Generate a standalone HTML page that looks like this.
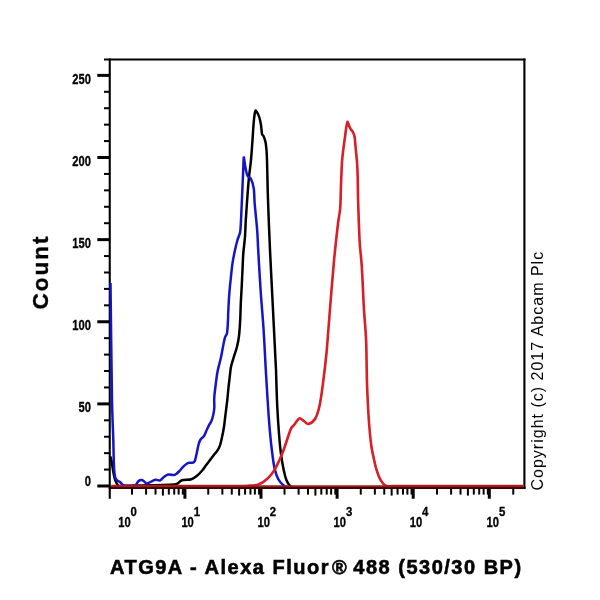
<!DOCTYPE html>
<html><head><meta charset="utf-8"><style>
html,body{margin:0;padding:0;background:#fff;width:600px;height:600px;overflow:hidden}
svg{display:block;will-change:transform}
text{font-family:"Liberation Sans",sans-serif;fill:#000}
.yl{font-size:14px;font-weight:bold;stroke:#000;stroke-width:0.3px}
.xl{font-size:14px;font-weight:bold;stroke:#000;stroke-width:0.3px}
.xs{font-size:12px;font-weight:bold;stroke:#000;stroke-width:0.3px}
.title{font-size:20px;font-weight:bold;letter-spacing:1.5px;stroke:#000;stroke-width:0.6px}
.count{font-size:22.5px;font-weight:bold;letter-spacing:2px;stroke:#000;stroke-width:0.4px}
.copy{font-size:16px;letter-spacing:1px}
</style></head><body>
<svg width="600" height="600" viewBox="0 0 600 600">
<line x1="109.75" y1="58.5" x2="109.75" y2="498.7" stroke="#000" stroke-width="2.1"/>
<line x1="104" y1="59.5" x2="525.5" y2="59.5" stroke="#000" stroke-width="2.2"/>
<line x1="524.4" y1="58.5" x2="524.4" y2="489" stroke="#000" stroke-width="2.1"/>
<line x1="108.7" y1="487.6" x2="525.5" y2="487.6" stroke="#000" stroke-width="2.6"/>
<line x1="97.3" y1="486.00" x2="110" y2="486.00" stroke="#000" stroke-width="3"/>
<line x1="104" y1="469.57" x2="110" y2="469.57" stroke="#000" stroke-width="2"/>
<line x1="104" y1="453.15" x2="110" y2="453.15" stroke="#000" stroke-width="2"/>
<line x1="104" y1="436.73" x2="110" y2="436.73" stroke="#000" stroke-width="2"/>
<line x1="104" y1="420.30" x2="110" y2="420.30" stroke="#000" stroke-width="2"/>
<line x1="97.3" y1="403.88" x2="110" y2="403.88" stroke="#000" stroke-width="3"/>
<line x1="104" y1="387.45" x2="110" y2="387.45" stroke="#000" stroke-width="2"/>
<line x1="104" y1="371.02" x2="110" y2="371.02" stroke="#000" stroke-width="2"/>
<line x1="104" y1="354.60" x2="110" y2="354.60" stroke="#000" stroke-width="2"/>
<line x1="104" y1="338.17" x2="110" y2="338.17" stroke="#000" stroke-width="2"/>
<line x1="97.3" y1="321.75" x2="110" y2="321.75" stroke="#000" stroke-width="3"/>
<line x1="104" y1="305.32" x2="110" y2="305.32" stroke="#000" stroke-width="2"/>
<line x1="104" y1="288.90" x2="110" y2="288.90" stroke="#000" stroke-width="2"/>
<line x1="104" y1="272.48" x2="110" y2="272.48" stroke="#000" stroke-width="2"/>
<line x1="104" y1="256.05" x2="110" y2="256.05" stroke="#000" stroke-width="2"/>
<line x1="97.3" y1="239.62" x2="110" y2="239.62" stroke="#000" stroke-width="3"/>
<line x1="104" y1="223.20" x2="110" y2="223.20" stroke="#000" stroke-width="2"/>
<line x1="104" y1="206.77" x2="110" y2="206.77" stroke="#000" stroke-width="2"/>
<line x1="104" y1="190.35" x2="110" y2="190.35" stroke="#000" stroke-width="2"/>
<line x1="104" y1="173.93" x2="110" y2="173.93" stroke="#000" stroke-width="2"/>
<line x1="97.3" y1="157.50" x2="110" y2="157.50" stroke="#000" stroke-width="3"/>
<line x1="104" y1="141.07" x2="110" y2="141.07" stroke="#000" stroke-width="2"/>
<line x1="104" y1="124.65" x2="110" y2="124.65" stroke="#000" stroke-width="2"/>
<line x1="104" y1="108.22" x2="110" y2="108.22" stroke="#000" stroke-width="2"/>
<line x1="104" y1="91.80" x2="110" y2="91.80" stroke="#000" stroke-width="2"/>
<line x1="97.3" y1="75.38" x2="110" y2="75.38" stroke="#000" stroke-width="3"/>
<line x1="184.90" y1="488" x2="184.90" y2="498.7" stroke="#000" stroke-width="3"/>
<line x1="261.00" y1="488" x2="261.00" y2="498.7" stroke="#000" stroke-width="3"/>
<line x1="337.10" y1="488" x2="337.10" y2="498.7" stroke="#000" stroke-width="3"/>
<line x1="413.20" y1="488" x2="413.20" y2="498.7" stroke="#000" stroke-width="3"/>
<line x1="489.30" y1="488" x2="489.30" y2="498.7" stroke="#000" stroke-width="3"/>
<line x1="132.01" y1="488" x2="132.01" y2="494.6" stroke="#000" stroke-width="2"/>
<line x1="146.11" y1="488" x2="146.11" y2="494.6" stroke="#000" stroke-width="2"/>
<line x1="155.52" y1="488" x2="155.52" y2="494.6" stroke="#000" stroke-width="2"/>
<line x1="162.89" y1="488" x2="162.89" y2="495.6" stroke="#000" stroke-width="2"/>
<line x1="168.82" y1="488" x2="168.82" y2="494.6" stroke="#000" stroke-width="2"/>
<line x1="174.21" y1="488" x2="174.21" y2="494.6" stroke="#000" stroke-width="2"/>
<line x1="178.63" y1="488" x2="178.63" y2="494.6" stroke="#000" stroke-width="2"/>
<line x1="182.82" y1="488" x2="182.82" y2="494.6" stroke="#000" stroke-width="2"/>
<line x1="208.26" y1="488" x2="208.26" y2="494.6" stroke="#000" stroke-width="2"/>
<line x1="222.36" y1="488" x2="222.36" y2="494.6" stroke="#000" stroke-width="2"/>
<line x1="231.77" y1="488" x2="231.77" y2="494.6" stroke="#000" stroke-width="2"/>
<line x1="239.14" y1="488" x2="239.14" y2="495.6" stroke="#000" stroke-width="2"/>
<line x1="245.07" y1="488" x2="245.07" y2="494.6" stroke="#000" stroke-width="2"/>
<line x1="250.46" y1="488" x2="250.46" y2="494.6" stroke="#000" stroke-width="2"/>
<line x1="254.88" y1="488" x2="254.88" y2="494.6" stroke="#000" stroke-width="2"/>
<line x1="259.07" y1="488" x2="259.07" y2="494.6" stroke="#000" stroke-width="2"/>
<line x1="284.51" y1="488" x2="284.51" y2="494.6" stroke="#000" stroke-width="2"/>
<line x1="298.61" y1="488" x2="298.61" y2="494.6" stroke="#000" stroke-width="2"/>
<line x1="308.02" y1="488" x2="308.02" y2="494.6" stroke="#000" stroke-width="2"/>
<line x1="315.39" y1="488" x2="315.39" y2="495.6" stroke="#000" stroke-width="2"/>
<line x1="321.32" y1="488" x2="321.32" y2="494.6" stroke="#000" stroke-width="2"/>
<line x1="326.71" y1="488" x2="326.71" y2="494.6" stroke="#000" stroke-width="2"/>
<line x1="331.13" y1="488" x2="331.13" y2="494.6" stroke="#000" stroke-width="2"/>
<line x1="335.32" y1="488" x2="335.32" y2="494.6" stroke="#000" stroke-width="2"/>
<line x1="360.76" y1="488" x2="360.76" y2="494.6" stroke="#000" stroke-width="2"/>
<line x1="374.86" y1="488" x2="374.86" y2="494.6" stroke="#000" stroke-width="2"/>
<line x1="384.27" y1="488" x2="384.27" y2="494.6" stroke="#000" stroke-width="2"/>
<line x1="391.64" y1="488" x2="391.64" y2="495.6" stroke="#000" stroke-width="2"/>
<line x1="397.57" y1="488" x2="397.57" y2="494.6" stroke="#000" stroke-width="2"/>
<line x1="402.96" y1="488" x2="402.96" y2="494.6" stroke="#000" stroke-width="2"/>
<line x1="407.38" y1="488" x2="407.38" y2="494.6" stroke="#000" stroke-width="2"/>
<line x1="411.57" y1="488" x2="411.57" y2="494.6" stroke="#000" stroke-width="2"/>
<line x1="437.01" y1="488" x2="437.01" y2="494.6" stroke="#000" stroke-width="2"/>
<line x1="451.11" y1="488" x2="451.11" y2="494.6" stroke="#000" stroke-width="2"/>
<line x1="460.52" y1="488" x2="460.52" y2="494.6" stroke="#000" stroke-width="2"/>
<line x1="467.89" y1="488" x2="467.89" y2="495.6" stroke="#000" stroke-width="2"/>
<line x1="473.82" y1="488" x2="473.82" y2="494.6" stroke="#000" stroke-width="2"/>
<line x1="479.21" y1="488" x2="479.21" y2="494.6" stroke="#000" stroke-width="2"/>
<line x1="483.63" y1="488" x2="483.63" y2="494.6" stroke="#000" stroke-width="2"/>
<line x1="487.82" y1="488" x2="487.82" y2="494.6" stroke="#000" stroke-width="2"/>
<line x1="513.26" y1="488" x2="513.26" y2="494.6" stroke="#000" stroke-width="2"/>
<path d="M110.50,456.50 C110.73,457.58 111.43,460.42 111.90,463.00 C112.37,465.58 112.78,469.25 113.30,472.00 C113.82,474.75 114.38,477.50 115.00,479.50 C115.58,481.38 116.37,482.92 117.00,484.00 C117.54,484.93 117.73,485.92 118.80,486.00 C122.30,486.25 130.32,485.74 138.00,485.50 C147.50,485.20 168.67,484.98 175.80,484.20 C178.20,483.94 179.45,481.50 180.80,480.80 C181.94,480.21 182.63,480.18 183.90,480.00 C185.65,479.75 189.17,479.97 191.30,479.30 C193.43,478.63 194.92,477.43 196.70,476.00 C198.48,474.57 200.45,472.48 202.00,470.70 C203.55,468.92 204.67,467.08 206.00,465.30 C207.33,463.52 208.67,461.77 210.00,460.00 C211.33,458.23 212.78,456.25 214.00,454.70 C215.22,453.15 216.30,452.27 217.30,450.70 C218.30,449.13 219.22,447.53 220.00,445.30 C220.78,443.07 221.33,440.40 222.00,437.30 C222.67,434.20 223.45,430.25 224.00,426.70 C224.55,423.15 224.77,420.28 225.30,416.00 C225.85,411.55 226.80,404.45 227.30,400.00 C227.78,395.73 227.90,393.08 228.30,389.30 C228.70,385.52 229.25,381.07 229.70,377.30 C230.15,373.53 230.33,370.03 231.00,366.70 C231.67,363.37 232.70,360.63 233.70,357.30 C234.70,353.97 236.12,350.25 237.00,346.70 C237.88,343.15 238.48,340.32 239.00,336.00 C239.53,331.55 239.90,325.45 240.20,320.00 C240.50,314.55 240.55,308.85 240.80,303.30 C241.05,297.75 241.42,292.25 241.70,286.70 C241.98,281.15 242.23,275.57 242.50,270.00 C242.77,264.43 242.88,258.85 243.30,253.30 C243.72,247.75 244.58,242.25 245.00,236.70 C245.42,231.15 245.36,226.67 245.80,220.00 C246.42,210.55 247.83,190.00 248.70,180.00 C249.40,171.98 250.37,166.67 251.00,160.00 C251.63,153.33 252.08,145.83 252.50,140.00 C252.92,134.17 253.17,129.17 253.50,125.00 C253.82,120.99 254.17,117.42 254.50,115.00 C254.75,113.17 255.50,110.50 255.50,110.50 C255.50,110.50 256.90,111.87 257.50,113.00 C258.17,114.25 258.92,116.00 259.50,118.00 C260.08,120.00 260.58,122.33 261.00,125.00 C261.42,127.67 261.58,132.17 262.00,134.00 C262.22,134.98 263.10,135.08 263.50,136.00 C264.08,137.33 265.00,139.67 265.50,142.00 C266.00,144.33 266.25,147.00 266.50,150.00 C266.75,153.00 266.88,156.00 267.00,160.00 C267.25,168.33 267.50,185.00 268.00,200.00 C268.50,215.00 269.33,235.00 270.00,250.00 C270.67,265.00 271.33,276.67 272.00,290.00 C272.67,303.33 273.33,316.67 274.00,330.00 C274.67,343.33 275.62,361.67 276.00,370.00 C276.18,374.00 276.16,376.00 276.30,380.00 C276.52,386.25 276.83,398.33 277.30,407.50 C277.77,416.67 278.50,427.35 279.10,435.00 C279.68,442.37 280.13,447.57 280.90,453.40 C281.67,459.23 282.78,465.57 283.70,470.00 C284.54,474.06 285.33,477.33 286.40,480.00 C287.45,482.62 288.67,484.75 290.10,486.00 C291.53,487.25 294.18,487.25 295.00,487.50" fill="none" stroke="#000" stroke-width="2.5" stroke-linejoin="round"/>
<path d="M110.50,283.00 C110.75,302.50 111.53,373.83 112.00,400.00 C112.29,416.01 113.02,430.33 113.30,440.00 C113.51,447.20 113.55,453.00 113.70,458.00 C113.84,462.80 113.90,466.58 114.20,470.00 C114.50,473.42 114.90,476.70 115.50,478.50 C115.91,479.73 117.05,480.22 117.80,480.80 C118.55,481.38 119.23,481.38 120.00,482.00 C120.77,482.62 121.68,483.93 122.40,484.50 C123.06,485.02 123.46,485.33 124.30,485.40 C126.40,485.57 132.67,486.20 135.00,485.50 C137.08,484.88 137.18,482.12 138.30,481.20 C139.41,480.28 140.72,479.95 141.70,480.00 C142.68,480.05 143.30,480.90 144.20,481.50 C145.10,482.10 145.85,483.63 147.10,483.60 C148.35,483.57 150.25,481.93 151.70,481.30 C153.15,480.67 154.42,479.93 155.80,479.80 C157.18,479.67 158.60,481.02 160.00,480.50 C161.40,479.98 162.82,477.68 164.20,476.70 C165.58,475.72 166.78,474.88 168.30,474.60 C169.82,474.32 172.05,475.07 173.30,475.00 C174.35,474.94 174.91,474.76 175.80,474.20 C176.78,473.57 177.95,472.50 179.20,471.25 C180.45,470.00 181.92,468.02 183.30,466.70 C184.68,465.38 186.38,463.97 187.50,463.30 C188.38,462.77 189.13,462.80 190.00,462.70 C190.87,462.60 191.92,462.93 192.70,462.70 C193.48,462.47 194.32,462.20 194.70,461.30 C195.37,459.73 196.03,456.18 196.70,453.30 C197.37,450.42 198.03,446.33 198.70,444.00 C199.26,442.04 199.82,440.63 200.70,439.30 C201.58,437.97 203.00,437.55 204.00,436.00 C205.00,434.45 205.82,431.88 206.70,430.00 C207.58,428.12 208.53,426.15 209.30,424.70 C210.04,423.31 210.71,422.76 211.30,421.30 C211.97,419.63 212.80,416.92 213.30,414.70 C213.80,412.48 214.15,410.45 214.30,408.00 C214.45,405.55 214.17,402.22 214.20,400.00 C214.23,397.88 214.28,396.81 214.50,394.70 C214.85,391.37 215.77,384.00 216.30,380.00 C216.80,376.27 216.94,374.38 217.70,370.70 C218.48,366.92 220.12,361.30 221.00,357.30 C221.88,353.30 222.33,350.03 223.00,346.70 C223.67,343.37 224.33,339.53 225.00,337.30 C225.51,335.59 226.69,335.06 227.00,333.30 C227.50,330.42 227.80,323.33 228.00,320.00 C228.16,317.32 228.07,315.98 228.20,313.30 C228.40,309.13 228.77,300.83 229.20,295.00 C229.63,289.17 230.25,283.58 230.80,278.30 C231.35,273.02 231.80,268.02 232.50,263.30 C233.20,258.58 234.17,253.88 235.00,250.00 C235.83,246.12 236.63,243.05 237.50,240.00 C238.37,236.95 239.67,235.15 240.20,231.70 C240.82,227.70 240.89,222.29 241.20,216.00 C241.67,206.55 242.60,184.33 243.00,175.00 C243.26,169.00 243.47,163.08 243.60,160.00 C243.66,158.60 243.80,156.50 243.80,156.50 C243.80,156.50 245.07,165.75 245.70,169.00 C246.25,171.85 246.72,174.33 247.60,176.00 C248.45,177.60 250.21,177.37 251.00,179.00 C252.03,181.13 253.20,184.88 253.80,188.80 C254.40,192.72 254.25,197.92 254.60,202.50 C254.95,207.08 255.45,211.38 255.90,216.30 C256.35,221.22 256.92,226.38 257.30,232.00 C257.68,237.62 257.79,242.80 258.20,250.00 C258.75,259.67 259.70,276.67 260.60,290.00 C261.50,303.33 262.73,316.67 263.60,330.00 C264.47,343.33 265.33,361.67 265.80,370.00 C266.02,374.00 266.15,376.00 266.40,380.00 C266.78,386.25 267.52,398.93 268.10,407.50 C268.68,416.07 269.28,424.37 269.90,431.40 C270.52,438.43 271.03,443.60 271.80,449.70 C272.57,455.80 273.43,463.12 274.50,468.00 C275.49,472.54 276.67,476.08 278.20,479.00 C279.73,481.92 281.90,484.08 283.70,485.50 C285.48,486.90 288.12,487.17 289.00,487.50" fill="none" stroke="#1515c8" stroke-width="2.5" stroke-linejoin="miter" stroke-miterlimit="8"/>
<path d="M111.50,486.00 C132.92,486.00 216.92,486.07 240.00,486.00 C244.00,485.99 247.50,485.73 250.00,485.60 C252.00,485.49 253.67,485.37 255.00,485.20 C256.21,485.05 256.86,485.05 258.00,484.60 C259.42,484.03 261.67,483.03 263.50,481.80 C265.33,480.57 267.17,479.18 269.00,477.20 C270.83,475.22 272.82,472.65 274.50,469.90 C276.18,467.15 277.57,464.07 279.10,460.70 C280.63,457.33 282.32,453.37 283.70,449.70 C285.08,446.03 286.18,442.22 287.40,438.70 C288.62,435.18 289.90,430.88 291.00,428.60 C291.81,426.91 292.93,426.37 294.00,425.00 C295.07,423.63 296.40,421.52 297.40,420.40 C298.29,419.40 298.82,418.12 300.00,418.30 C301.18,418.48 303.08,420.55 304.50,421.50 C305.92,422.45 306.70,424.50 308.50,424.00 C310.30,423.50 313.52,421.51 315.30,418.50 C317.17,415.33 318.50,410.55 319.70,405.00 C321.00,398.97 321.98,390.80 323.10,382.30 C324.22,373.80 325.50,363.05 326.40,354.00 C327.30,344.95 327.78,337.00 328.50,328.00 C329.22,319.00 330.02,308.43 330.70,300.00 C331.38,291.57 331.93,285.13 332.60,277.40 C333.27,269.67 333.80,262.62 334.70,253.60 C335.60,244.58 337.08,230.90 338.00,223.30 C338.74,217.16 339.72,214.16 340.20,208.00 C340.70,201.62 340.70,192.67 341.00,185.00 C341.30,177.33 341.62,167.92 342.00,162.00 C342.33,156.98 342.80,153.67 343.30,149.50 C343.80,145.33 344.50,140.75 345.00,137.00 C345.50,133.25 345.88,129.53 346.30,127.00 C346.65,124.89 347.50,121.80 347.50,121.80 C347.50,121.80 349.50,127.00 350.40,128.70 C351.17,130.16 352.20,130.62 352.90,132.00 C353.60,133.38 354.25,134.92 354.60,137.00 C355.08,139.92 355.40,145.33 355.80,149.50 C356.20,153.67 356.68,157.47 357.00,162.00 C357.32,166.53 357.53,170.82 357.70,176.70 C357.88,183.03 357.82,190.68 358.10,200.00 C358.42,210.65 358.98,229.50 359.60,240.60 C360.18,251.02 361.14,256.18 361.80,266.60 C362.53,278.17 363.28,297.77 364.00,310.00 C364.70,322.01 365.61,327.98 366.10,340.00 C366.60,352.17 366.60,370.50 367.00,383.00 C367.40,395.50 368.05,407.00 368.50,415.00 C368.86,421.41 369.20,425.67 369.70,431.00 C370.20,436.33 370.83,442.50 371.50,447.00 C372.16,451.44 372.95,454.50 373.70,458.00 C374.45,461.50 375.12,464.88 376.00,468.00 C376.88,471.12 377.92,474.23 379.00,476.70 C380.08,479.17 381.38,481.28 382.50,482.80 C383.54,484.21 384.45,485.23 385.70,485.80 C386.95,486.37 388.45,486.17 390.00,486.20 C391.55,486.23 393.00,486.00 395.00,486.00 C417.33,485.97 502.50,486.00 524.00,486.00" fill="none" stroke="#d81e26" stroke-width="2.6" stroke-linejoin="round"/>
<line x1="111" y1="486.2" x2="523.4" y2="486.2" stroke="#9a1c1c" stroke-width="2"/>
<line x1="111" y1="488" x2="523.4" y2="488" stroke="#4a0505" stroke-width="1.6"/>
<text transform="translate(91,486.0) scale(0.8,1)" text-anchor="end" class="yl">0</text>
<text transform="translate(91,412.2) scale(0.8,1)" text-anchor="end" class="yl">50</text>
<text transform="translate(91,330.1) scale(0.8,1)" text-anchor="end" class="yl">100</text>
<text transform="translate(91,247.9) scale(0.8,1)" text-anchor="end" class="yl">150</text>
<text transform="translate(91,165.8) scale(0.8,1)" text-anchor="end" class="yl">200</text>
<text transform="translate(91,83.7) scale(0.8,1)" text-anchor="end" class="yl">250</text>
<text transform="translate(118.3,526.8) scale(0.8,1)" class="xl">10</text><text transform="translate(130.6,515.9) scale(0.95,1)" class="xs">0</text>
<text transform="translate(181.4,526.8) scale(0.8,1)" class="xl">10</text><text transform="translate(193.7,515.9) scale(0.95,1)" class="xs">1</text>
<text transform="translate(257.5,526.8) scale(0.8,1)" class="xl">10</text><text transform="translate(269.8,515.9) scale(0.95,1)" class="xs">2</text>
<text transform="translate(333.6,526.8) scale(0.8,1)" class="xl">10</text><text transform="translate(345.9,515.9) scale(0.95,1)" class="xs">3</text>
<text transform="translate(409.7,526.8) scale(0.8,1)" class="xl">10</text><text transform="translate(422.0,515.9) scale(0.95,1)" class="xs">4</text>
<text transform="translate(486.6,526.8) scale(0.8,1)" class="xl">10</text><text transform="translate(498.9,515.9) scale(0.95,1)" class="xs">5</text>
<text x="110" y="574" class="title">ATG9A - Alexa Fluor<tspan dx="2">®</tspan><tspan dx="-2"> 488 (530/30 BP)</tspan></text>
<text transform="translate(48.3,309.6) rotate(-90)" class="count">Count</text>
<text transform="translate(543.3,490.5) rotate(-90)" class="copy">Copyright (c) 2017 Abcam Plc</text>
</svg>
</body></html>
